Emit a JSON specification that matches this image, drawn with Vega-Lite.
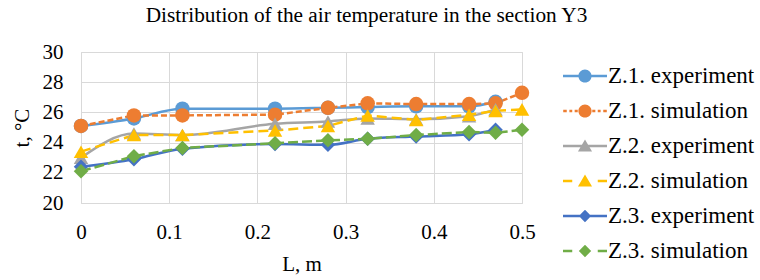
{
  "$schema": "https://vega.github.io/schema/vega-lite/v6.json",
  "autosize": "none",
  "width": 441,
  "height": 151,
  "padding": {"left": 81, "top": 52, "right": 238, "bottom": 77},
  "background": "white",
  "title": {"text": "Distribution of the air temperature in the section Y3", "font": "Liberation Serif", "fontSize": 21.3, "fontWeight": "normal", "color": "#000000", "anchor": "middle", "dx": 65, "offset": 15},
  "config": {
    "view": {"stroke": "#d9d9d9"},
    "axis": {"grid": true, "gridColor": "#d9d9d9", "gridWidth": 1, "domain": false, "ticks": false, "labelFlush": false, "labelFont": "Liberation Serif", "labelFontSize": 21, "labelColor": "#000000", "titleFont": "Liberation Serif", "titleFontSize": 21, "titleFontWeight": "normal", "titleColor": "#000000"},
    "legend": {"labelFont": "Liberation Serif", "labelFontSize": 23, "labelColor": "#000000", "labelLimit": 300}
  },
  "data": {"values": [
    {"series": "Z.1. experiment", "kind": "e", "L": 0, "t": 25.1},
    {"series": "Z.1. experiment", "kind": "e", "L": 0.06, "t": 25.6},
    {"series": "Z.1. experiment", "kind": "e", "L": 0.115, "t": 26.25},
    {"series": "Z.1. experiment", "kind": "e", "L": 0.22, "t": 26.25},
    {"series": "Z.1. experiment", "kind": "e", "L": 0.28, "t": 26.3},
    {"series": "Z.1. experiment", "kind": "e", "L": 0.325, "t": 26.35},
    {"series": "Z.1. experiment", "kind": "e", "L": 0.38, "t": 26.4},
    {"series": "Z.1. experiment", "kind": "e", "L": 0.44, "t": 26.4},
    {"series": "Z.1. experiment", "kind": "e", "L": 0.47, "t": 26.7},
    {"series": "Z.1. simulation", "kind": "s", "L": 0, "t": 25.1},
    {"series": "Z.1. simulation", "kind": "s", "L": 0.06, "t": 25.8},
    {"series": "Z.1. simulation", "kind": "s", "L": 0.115, "t": 25.8},
    {"series": "Z.1. simulation", "kind": "s", "L": 0.22, "t": 25.85},
    {"series": "Z.1. simulation", "kind": "s", "L": 0.28, "t": 26.3},
    {"series": "Z.1. simulation", "kind": "s", "L": 0.325, "t": 26.6},
    {"series": "Z.1. simulation", "kind": "s", "L": 0.38, "t": 26.55},
    {"series": "Z.1. simulation", "kind": "s", "L": 0.44, "t": 26.55},
    {"series": "Z.1. simulation", "kind": "s", "L": 0.47, "t": 26.6},
    {"series": "Z.1. simulation", "kind": "s", "L": 0.5, "t": 27.3},
    {"series": "Z.2. experiment", "kind": "e", "L": 0, "t": 23.0},
    {"series": "Z.2. experiment", "kind": "e", "L": 0.06, "t": 24.6},
    {"series": "Z.2. experiment", "kind": "e", "L": 0.115, "t": 24.5},
    {"series": "Z.2. experiment", "kind": "e", "L": 0.22, "t": 25.25},
    {"series": "Z.2. experiment", "kind": "e", "L": 0.28, "t": 25.4},
    {"series": "Z.2. experiment", "kind": "e", "L": 0.325, "t": 25.6},
    {"series": "Z.2. experiment", "kind": "e", "L": 0.38, "t": 25.55},
    {"series": "Z.2. experiment", "kind": "e", "L": 0.44, "t": 25.75},
    {"series": "Z.2. experiment", "kind": "e", "L": 0.47, "t": 26.2},
    {"series": "Z.2. simulation", "kind": "s", "L": 0, "t": 23.4},
    {"series": "Z.2. simulation", "kind": "s", "L": 0.06, "t": 24.5},
    {"series": "Z.2. simulation", "kind": "s", "L": 0.115, "t": 24.5},
    {"series": "Z.2. simulation", "kind": "s", "L": 0.22, "t": 24.8},
    {"series": "Z.2. simulation", "kind": "s", "L": 0.28, "t": 25.1},
    {"series": "Z.2. simulation", "kind": "s", "L": 0.325, "t": 25.8},
    {"series": "Z.2. simulation", "kind": "s", "L": 0.38, "t": 25.5},
    {"series": "Z.2. simulation", "kind": "s", "L": 0.44, "t": 25.85},
    {"series": "Z.2. simulation", "kind": "s", "L": 0.47, "t": 26.1},
    {"series": "Z.2. simulation", "kind": "s", "L": 0.5, "t": 26.2},
    {"series": "Z.3. experiment", "kind": "e", "L": 0, "t": 22.4},
    {"series": "Z.3. experiment", "kind": "e", "L": 0.06, "t": 22.9},
    {"series": "Z.3. experiment", "kind": "e", "L": 0.115, "t": 23.6},
    {"series": "Z.3. experiment", "kind": "e", "L": 0.22, "t": 23.9},
    {"series": "Z.3. experiment", "kind": "e", "L": 0.28, "t": 23.85},
    {"series": "Z.3. experiment", "kind": "e", "L": 0.325, "t": 24.25},
    {"series": "Z.3. experiment", "kind": "e", "L": 0.38, "t": 24.4},
    {"series": "Z.3. experiment", "kind": "e", "L": 0.44, "t": 24.55},
    {"series": "Z.3. experiment", "kind": "e", "L": 0.47, "t": 24.85},
    {"series": "Z.3. simulation", "kind": "s", "L": 0, "t": 22.1},
    {"series": "Z.3. simulation", "kind": "s", "L": 0.06, "t": 23.1},
    {"series": "Z.3. simulation", "kind": "s", "L": 0.115, "t": 23.65},
    {"series": "Z.3. simulation", "kind": "s", "L": 0.22, "t": 23.95},
    {"series": "Z.3. simulation", "kind": "s", "L": 0.28, "t": 24.15},
    {"series": "Z.3. simulation", "kind": "s", "L": 0.325, "t": 24.25},
    {"series": "Z.3. simulation", "kind": "s", "L": 0.38, "t": 24.5},
    {"series": "Z.3. simulation", "kind": "s", "L": 0.44, "t": 24.7},
    {"series": "Z.3. simulation", "kind": "s", "L": 0.47, "t": 24.65},
    {"series": "Z.3. simulation", "kind": "s", "L": 0.5, "t": 24.85}
  ]},
  "encoding": {
    "x": {"field": "L", "type": "quantitative", "scale": {"domain": [0, 0.5], "nice": false, "zero": false}, "axis": {"values": [0, 0.1, 0.2, 0.3, 0.4, 0.5], "format": ".1~f", "labelPadding": 18, "title": "L, m", "titlePadding": 11}},
    "y": {"field": "t", "type": "quantitative", "scale": {"domain": [20, 30], "nice": false, "zero": false}, "axis": {"values": [20, 22, 24, 26, 28, 30], "labelPadding": 18, "title": "t, °C", "titlePadding": 10}}
  },
  "layer": [
    {
      "transform": [{"filter": {"field": "kind", "equal": "e"}}],
      "mark": {"type": "line", "interpolate": "monotone", "strokeWidth": 2.5},
      "encoding": {
        "color": {"field": "series", "type": "nominal", "legend": null, "scale": {"domain": ["Z.1. experiment", "Z.2. experiment", "Z.3. experiment"], "range": ["#5B9BD5", "#A5A5A5", "#4472C4"]}},
        "detail": {"field": "series"}
      }
    },
    {
      "transform": [{"filter": {"field": "kind", "equal": "s"}}],
      "mark": {"type": "line", "strokeWidth": 2.5},
      "encoding": {
        "color": {"field": "series", "type": "nominal", "legend": null, "scale": {"domain": ["Z.1. simulation", "Z.2. simulation", "Z.3. simulation"], "range": ["#ED7D31", "#FFC000", "#70AD47"]}},
        "strokeDash": {"field": "series", "type": "nominal", "legend": null, "scale": {"domain": ["Z.1. simulation", "Z.2. simulation", "Z.3. simulation"], "range": [[6, 3], [10, 5], [10, 4]]}}
      }
    },
    {
      "mark": {"type": "point", "filled": true, "opacity": 1, "size": 210},
      "encoding": {
        "color": {"field": "series", "type": "nominal", "legend": null, "scale": {"domain": ["Z.1. experiment", "Z.1. simulation", "Z.2. experiment", "Z.2. simulation", "Z.3. experiment", "Z.3. simulation"], "range": ["#5B9BD5", "#ED7D31", "#A5A5A5", "#FFC000", "#4472C4", "#70AD47"]}},
        "shape": {"field": "series", "type": "nominal", "legend": null, "scale": {"domain": ["Z.1. experiment", "Z.1. simulation", "Z.2. experiment", "Z.2. simulation", "Z.3. experiment", "Z.3. simulation"], "range": ["circle", "circle", "triangle-up", "triangle-up", "diamond", "diamond"]}}
      }
    },
    {
      "transform": [{"filter": {"field": "L", "lt": -1}}],
      "mark": {"type": "point", "filled": true, "opacity": 1},
      "encoding": {
        "color": {"field": "series", "type": "nominal", "title": null, "scale": {"domain": ["Z.1. experiment", "Z.1. simulation", "Z.2. experiment", "Z.2. simulation", "Z.3. experiment", "Z.3. simulation"], "range": ["#5B9BD5", "#ED7D31", "#A5A5A5", "#FFC000", "#4472C4", "#70AD47"]},
          "legend": {"orient": "none", "legendX": 482, "legendY": 2, "title": null, "symbolSize": 1936, "symbolStrokeWidth": 0, "symbolOpacity": 1, "labelOffset": 1, "rowPadding": 1, "padding": 0, "labelFont": "Liberation Serif", "labelFontSize": 23, "labelColor": "#000000", "labelLimit": 300}},
        "shape": {"field": "series", "type": "nominal", "title": null, "scale": {"domain": ["Z.1. experiment", "Z.1. simulation", "Z.2. experiment", "Z.2. simulation", "Z.3. experiment", "Z.3. simulation"], "range": [
          "M-1,-0.055H1V0.055H-1Z M-0.3,0A0.3,0.3,0,0,1,0.3,0A0.3,0.3,0,0,1,-0.3,0Z",
          "M-0.99,-0.055H-0.83V0.055H-0.99Z M-0.71,-0.055H-0.58V0.055H-0.71Z M-0.47,-0.055H-0.33V0.055H-0.47Z M0.33,-0.055H0.47V0.055H0.33Z M0.58,-0.055H0.71V0.055H0.58Z M0.83,-0.055H0.99V0.055H0.83Z M-0.3,0A0.3,0.3,0,0,1,0.3,0A0.3,0.3,0,0,1,-0.3,0Z",
          "M-1,-0.055H1V0.055H-1Z M0,-0.3L0.32,0.25L-0.32,0.25Z",
          "M-1,-0.055H-0.58V0.055H-1Z M0.58,-0.055H1V0.055H0.58Z M0,-0.3L0.32,0.25L-0.32,0.25Z",
          "M-1,-0.055H1V0.055H-1Z M0,-0.28L0.28,0L0,0.28L-0.28,0Z",
          "M-1,-0.055H-0.58V0.055H-1Z M0.58,-0.055H1V0.055H0.58Z M0,-0.28L0.28,0L0,0.28L-0.28,0Z"
        ]}, "legend": {"orient": "none", "legendX": 482, "legendY": 2, "title": null, "symbolSize": 1936, "symbolStrokeWidth": 0, "symbolOpacity": 1, "labelOffset": 1, "rowPadding": 1, "padding": 0, "labelFont": "Liberation Serif", "labelFontSize": 23, "labelColor": "#000000", "labelLimit": 300}}
      }
    }
  ],
  "resolve": {"scale": {"color": "independent", "shape": "independent"}}
}
